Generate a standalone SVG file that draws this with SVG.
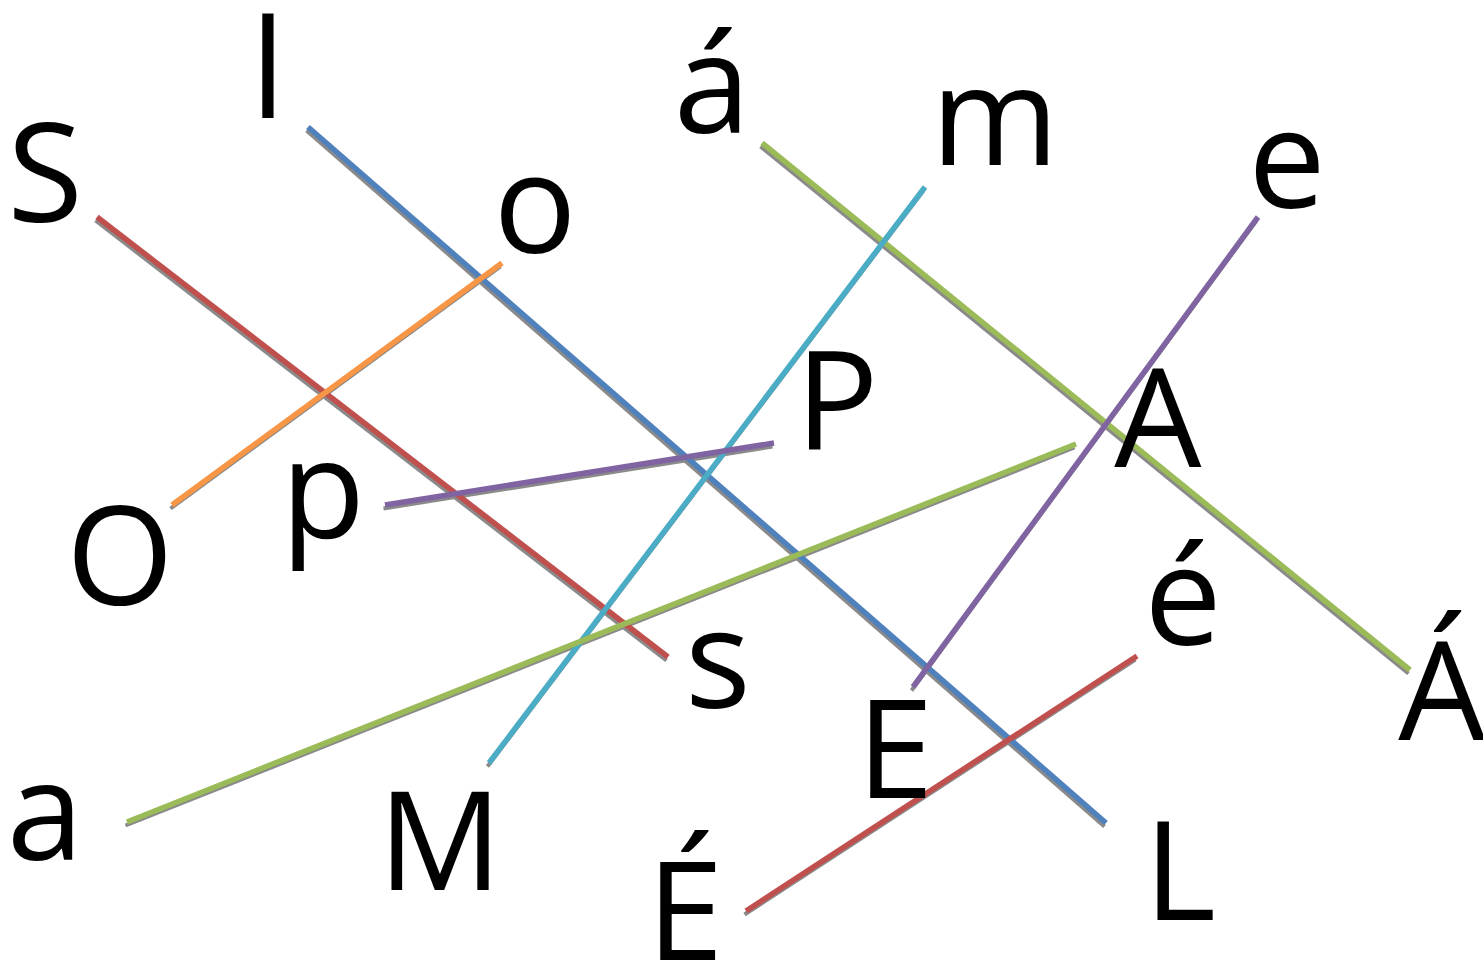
<svg xmlns="http://www.w3.org/2000/svg" width="1483" height="970" viewBox="0 0 1483 970">
<style>
.t{font-family:"Open Sans","Noto Sans","Liberation Sans",sans-serif;font-size:138px;fill:#000;text-anchor:middle}
.sh{stroke:#8a8a8a;stroke-width:4;fill:none}
.ln{stroke-width:5.5;fill:none}
.red{stroke:#c0504d}.blue{stroke:#4f81bd}.orange{stroke:#f79646}.green{stroke:#9bbb59}.cyan{stroke:#4bacc6}.purple{stroke:#8064a2}
</style>
<rect width="1483" height="970" fill="#fff"/>
<g id="connectors">
<g transform="translate(-1.5,3.5)">
<line class="sh" x1="97" y1="217" x2="668" y2="657"/>
<line class="sh" x1="308" y1="127" x2="1106" y2="823"/>
<line class="sh" x1="502" y1="263" x2="172" y2="505"/>
<line class="sh" x1="762" y1="143" x2="1410" y2="670"/>
<line class="sh" x1="925" y1="187" x2="489" y2="763"/>
<line class="sh" x1="1258" y1="217" x2="913" y2="687"/>
<line class="sh" x1="385" y1="505" x2="774" y2="443"/>
<line class="sh" x1="127" y1="822" x2="1076" y2="444"/>
<line class="sh" x1="1137" y1="656" x2="746" y2="911"/>
</g>
<line class="ln red" x1="97" y1="217" x2="668" y2="657"/>
<line class="ln blue" x1="308" y1="127" x2="1106" y2="823"/>
<line class="ln orange" x1="502" y1="263" x2="172" y2="505"/>
<line class="ln green" x1="762" y1="143" x2="1410" y2="670"/>
<line class="ln cyan" x1="925" y1="187" x2="489" y2="763"/>
<line class="ln purple" x1="1258" y1="217" x2="913" y2="687"/>
<line class="ln purple" x1="385" y1="505" x2="774" y2="443"/>
<line class="ln green" x1="127" y1="822" x2="1076" y2="444"/>
<line class="ln red" x1="1137" y1="656" x2="746" y2="911"/>
</g>
<g id="n-S"><text class="t" x="45" y="222">S</text></g>
<g id="n-l"><text class="t" x="268" y="118">l</text></g>
<g id="n-o"><text class="t" x="535" y="253">o</text></g>
<g id="n-a-acute"><text class="t" x="712" y="133">á</text></g>
<g id="n-m"><text class="t" x="995" y="165">m</text></g>
<g id="n-e"><text class="t" x="1287" y="208">e</text></g>
<g id="n-P"><text class="t" x="837" y="450">P</text></g>
<g id="n-A"><text class="t" x="1158" y="467">A</text></g>
<g id="n-p"><text class="t" x="323" y="538">p</text></g>
<g id="n-O"><text class="t" x="120" y="605">O</text></g>
<g id="n-e-acute"><text class="t" x="1183" y="645">é</text></g>
<g id="n-s"><text class="t" x="718" y="708">s</text></g>
<g id="n-A-acute"><text class="t" x="1442" y="740">Á</text></g>
<g id="n-E"><text class="t" x="895" y="798">E</text></g>
<g id="n-a"><text class="t" x="45" y="860">a</text></g>
<g id="n-M"><text class="t" x="440" y="890">M</text></g>
<g id="n-L"><text class="t" x="1180" y="920">L</text></g>
<g id="n-E-acute"><text class="t" x="685" y="960">É</text></g>
</svg>
